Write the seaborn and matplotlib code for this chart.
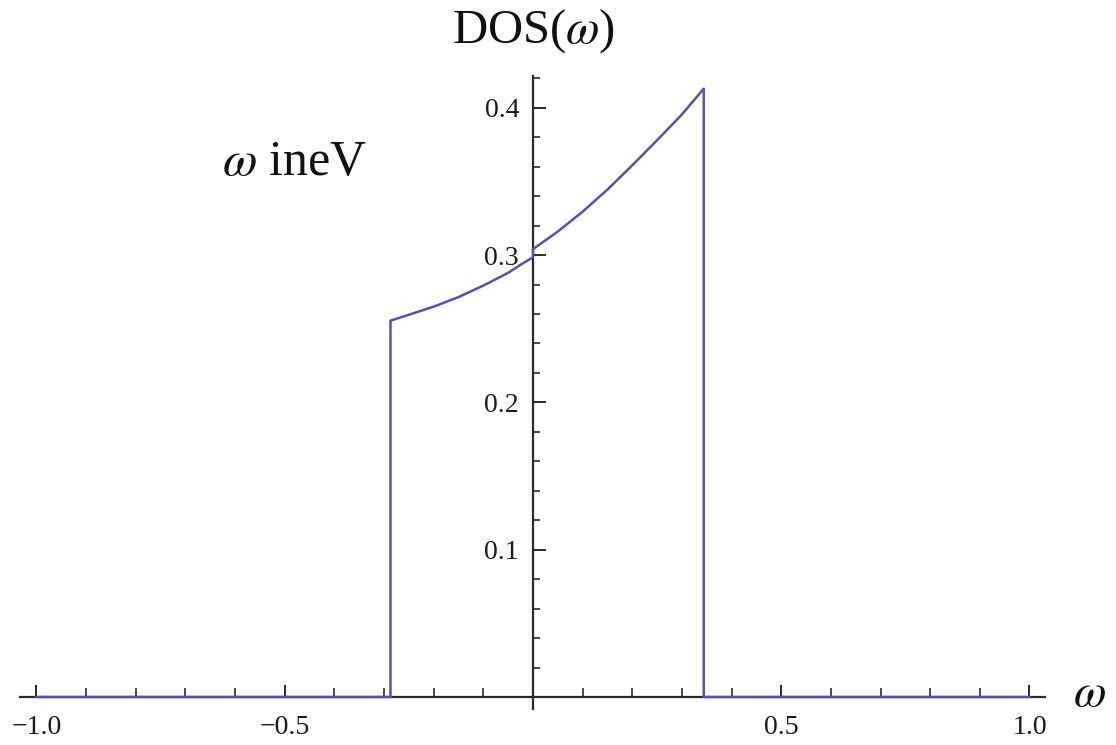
import numpy as np
import pandas as pd
import matplotlib
matplotlib.use("Agg")
import matplotlib.pyplot as plt
from matplotlib.ticker import FixedLocator
import seaborn as sns

# Density of states: zero outside the band, two smooth branches inside
omega_left = [-0.287, -0.25, -0.20, -0.15, -0.10, -0.05, -0.02, 0.0]
dos_left = [0.2555, 0.2595, 0.2650, 0.2715, 0.2793, 0.2880, 0.2945, 0.2985]
omega_right = [0.0, 0.05, 0.10, 0.15, 0.20, 0.25, 0.30, 0.344]
dos_right = [0.304, 0.316, 0.3295, 0.3445, 0.361, 0.378, 0.3955, 0.413]
omega_min, omega_max = -1.0, 1.0

x_tick_values = [-1.0, -0.5, 0.5, 1.0]
x_tick_labels = ["\u22121.0", "\u22120.5", "0.5", "1.0"]
y_tick_values = [0.1, 0.2, 0.3, 0.4]
y_tick_labels = ["0.1", "0.2", "0.3", "0.4"]

omega = ([omega_min, omega_left[0]] + omega_left + omega_right
         + [omega_right[-1], omega_max])
dos = [0.0, 0.0] + dos_left + dos_right + [0.0, 0.0]
df = pd.DataFrame({"omega": omega, "dos": dos})

sns.set_style("white")
plt.rcParams["font.family"] = ["Liberation Serif", "DejaVu Serif"]
plt.rcParams["mathtext.fontset"] = "stix"

fig = plt.figure(figsize=(11.16, 7.45), dpi=100)
ax = fig.add_axes([0, 0, 1, 1])

sns.lineplot(data=df, x="omega", y="dos", sort=False, estimator=None,
             color="#5353aa", linewidth=1.8, ax=ax)

ax.set_xlim(-1.0735, 1.1743)
ax.set_ylim(-0.0326, 0.4732)
ax.set_xlabel("")
ax.set_ylabel("")
ax.set_facecolor("white")

axis_color = "#2a2a2a"
for side in ("top", "right"):
    ax.spines[side].set_visible(False)
ax.spines["left"].set_position(("data", 0))
ax.spines["bottom"].set_position(("data", 0))
ax.spines["left"].set_bounds(-0.008, 0.4216)
ax.spines["bottom"].set_bounds(-1.034, 1.031)
for side in ("left", "bottom"):
    ax.spines[side].set_color(axis_color)
    ax.spines[side].set_linewidth(1.6)
    ax.spines[side].set_zorder(1)

ax.xaxis.set_major_locator(FixedLocator(x_tick_values))
ax.xaxis.set_ticklabels(x_tick_labels)
ax.xaxis.set_minor_locator(FixedLocator(
    [v / 10 for v in range(-9, 10) if v not in (-5, 0, 5)]))
ax.yaxis.set_major_locator(FixedLocator(y_tick_values))
ax.yaxis.set_ticklabels(y_tick_labels)
ax.yaxis.set_minor_locator(FixedLocator(
    [v / 100 for v in range(2, 43, 2) if v % 10 != 0]))

ax.tick_params(which="both", bottom=True, left=True, top=False, right=False)
ax.tick_params(axis="x", which="major", direction="in", length=9, width=1.4,
               color=axis_color, labelsize=20, pad=13, labelcolor="#1a1a1a")
ax.tick_params(axis="x", which="minor", direction="in", length=6.5, width=1.2,
               color=axis_color)
ax.tick_params(axis="y", which="major", direction="in", length=9.5, width=1.4,
               color=axis_color, labelsize=20, pad=10, labelcolor="#1a1a1a")
ax.tick_params(axis="y", which="minor", direction="in", length=5, width=1.2,
               color=axis_color)

ax.text(0.0, 0.444, r"DOS($\omega$)", fontsize=35, ha="center",
        va="baseline", color="#111111")
ax.text(-0.48, 0.363, r"$\omega$ ineV", fontsize=36, ha="center",
        va="center", color="#111111")
ax.text(1.12, 0.0015, r"$\omega$", fontsize=34, ha="center", va="center",
        color="#111111")

fig.savefig("out.png", dpi=100, facecolor="white")
